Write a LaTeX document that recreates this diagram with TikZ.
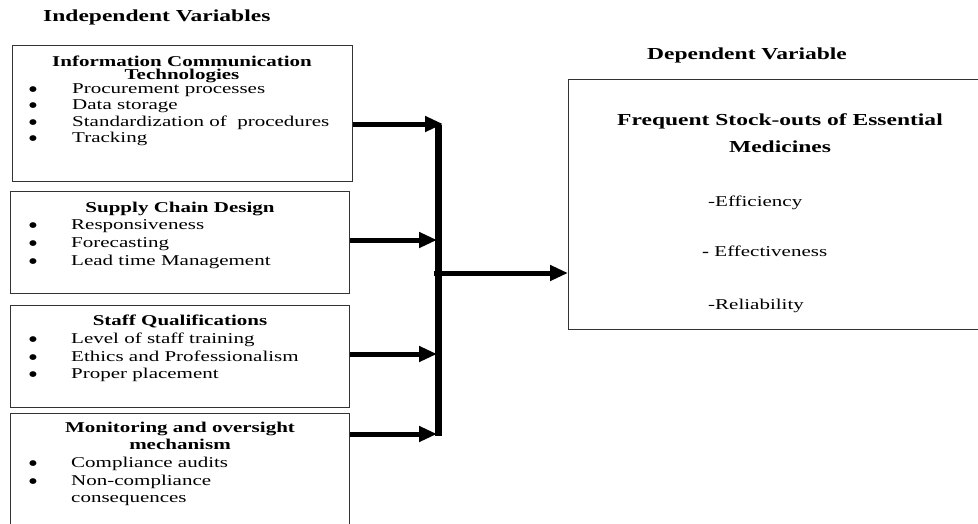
\documentclass[tikz,border=0pt]{standalone}
\usepackage{fontspec}
\setmainfont{Liberation Serif}[FakeStretch=1.40]
\newfontfamily\bulletfont{DejaVu Sans}[FakeStretch=1.2]
\usetikzlibrary{arrows.meta}
\begin{document}
\begin{tikzpicture}[x=1pt,y=-1pt,
  box/.style={draw=black!80, line width=1.3pt, rectangle, inner sep=0pt, anchor=north west},
  txt/.style={inner sep=0pt, anchor=west, text height=11pt, text depth=3pt, font=\fontsize{15}{17}\selectfont},
  ttl/.style={inner sep=0pt, anchor=center, text height=11pt, text depth=3pt, font=\fontsize{15}{17}\selectfont\bfseries},
  head/.style={inner sep=0pt, text height=12pt, text depth=3pt, font=\fontsize{16.8}{19}\selectfont\bfseries},
  bul/.style={inner sep=0pt, anchor=center, font=\bulletfont\fontsize{7.5}{8}\selectfont},
  arr/.style={line width=5pt, -{Triangle[length=18pt,width=15pt]}},
]
\useasboundingbox (0,0) rectangle (978,523);
\clip (0,0) rectangle (978,523);

% headings
\node[head, anchor=west] (hind) at (43,17) {Independent Variables};
\node[head, anchor=center] (hdep) at (747,55) {Dependent Variable};

% ICT box
\node[box, minimum width=340pt, minimum height=136pt] (ict) at (12,44.5) {};
\node[inner sep=0pt, anchor=north, align=center, font=\fontsize{15}{13.5}\selectfont\bfseries] (ictt) at (182,55.5) {Information Communication\\Technologies};
\node[bul] (ictb1) at (33,89.5) {●};
\node[txt] (icti1) at (72,89) {Procurement processes};
\node[bul] (ictb2) at (33,106) {●};
\node[txt] (icti2) at (72,105.5) {Data storage};
\node[bul] (ictb3) at (33,122.5) {●};
\node[txt] (icti3) at (72,122) {Standardization of\ \ procedures};
\node[bul] (ictb4) at (33,138.5) {●};
\node[txt] (icti4) at (72,138) {Tracking};

% Supply chain box
\node[box, minimum width=339pt, minimum height=102pt] (scd) at (10,191) {};
\node[ttl] (scdt) at (180,208) {Supply Chain Design};
\node[bul] (scdb1) at (33,225.5) {●};
\node[txt] (scdi1) at (71,225) {Responsiveness};
\node[bul] (scdb2) at (33,243.5) {●};
\node[txt] (scdi2) at (71,243) {Forecasting};
\node[bul] (scdb3) at (33,261.5) {●};
\node[txt] (scdi3) at (71,261) {Lead time Management};

% Staff box
\node[box, minimum width=339pt, minimum height=102pt] (stf) at (10,305) {};
\node[ttl] (stft) at (180,321) {Staff Qualifications};
\node[bul] (stfb1) at (33,339.5) {●};
\node[txt] (stfi1) at (71,339) {Level of staff training};
\node[bul] (stfb2) at (33,357.5) {●};
\node[txt] (stfi2) at (71,357) {Ethics and Professionalism};
\node[bul] (stfb3) at (33,374.5) {●};
\node[txt] (stfi3) at (71,374) {Proper placement};

% Monitoring box
\node[box, minimum width=339pt, minimum height=140pt] (mon) at (10,413) {};
\node[ttl] (mont1) at (180,428) {Monitoring and oversight};
\node[ttl] (mont2) at (180,445) {mechanism};
\node[bul] (monb1) at (33,463.5) {●};
\node[txt] (moni1) at (71,463) {Compliance audits};
\node[bul] (monb2) at (33,481.5) {●};
\node[txt] (moni2) at (71,481) {Non-compliance};
\node[txt] (moni3) at (71,498) {consequences};

% Dependent box
\node[box, minimum width=440pt, minimum height=250pt] (dv) at (568,79) {};
\node[head, anchor=center] (dvt1) at (780,121) {Frequent Stock-outs of Essential};
\node[head, anchor=center] (dvt2) at (780,148) {Medicines};
\node[txt] (dvi1) at (708,202) {-Efficiency};
\node[txt] (dvi2) at (702,252) {\textbf{-} Effectiveness};
\node[txt] (dvi3) at (708,305) {-Reliability};

% connector bar and arrows
\coordinate (bartop) at (438.5,125);
\coordinate (barbot) at (438.5,436);
\coordinate (a1) at (443,124);
\coordinate (a2) at (437,240);
\coordinate (a3) at (437,354);
\coordinate (a4) at (437,434);
\coordinate (bj) at (434,273);
\draw[line width=7pt] (bartop) -- (barbot);
\draw[arr] (ict.east |- a1) -- (a1);
\draw[arr] (scd.east |- a2) -- (a2);
\draw[arr] (stf.east |- a3) -- (a3);
\draw[arr] (mon.east |- a4) -- (a4);
\draw[arr] (bj) -- (dv.west |- bj);
\end{tikzpicture}
\end{document}
